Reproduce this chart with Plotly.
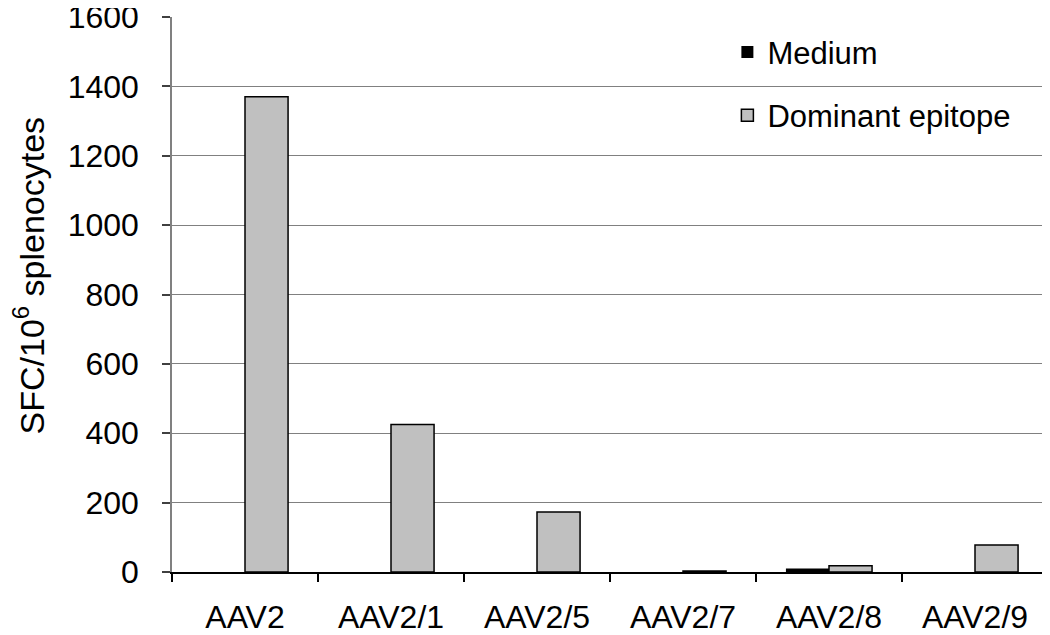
import plotly.graph_objects as go

categories = ["AAV2", "AAV2/1", "AAV2/5", "AAV2/7", "AAV2/8", "AAV2/9"]
medium = [0, 0, 0, 0, 10, 0]
dominant = [1370, 425, 173, 3, 18, 78]
y_ticks = [0, 200, 400, 600, 800, 1000, 1200, 1400, 1600]
y_title = "SFC/10<sup>6</sup> splenocytes"

font = "Liberation Sans, Arial, sans-serif"

fig = go.Figure()
fig.add_trace(go.Bar(x=categories, y=medium, name="Medium", legendgroup="a",
                     marker=dict(color="#000000", line=dict(color="#000000", width=0))))
fig.add_trace(go.Bar(x=categories, y=dominant, name="Dominant epitope", legendgroup="b",
                     marker=dict(color="#C0C0C0", line=dict(color="#000000", width=1.5))))

# page body has an 8px margin, so the figure is shifted by (8, 8) in the window
fig.update_layout(
    width=1042, height=627,
    margin=dict(l=164, r=2, t=9, b=63, autoexpand=False),
    paper_bgcolor="white", plot_bgcolor="white",
    font=dict(family=font, size=32, color="#000000"),
    barmode="group", bargap=0.41, bargroupgap=0,
    showlegend=True,
    legend=dict(x=0.634, y=0.985, xanchor="left", yanchor="top",
                bgcolor="rgba(0,0,0,0)", font=dict(size=31),
                tracegroupgap=20, traceorder="grouped"),
    annotations=[dict(text=y_title, xref="paper", yref="paper",
                      x=-0.164, y=0.535, xanchor="center", yanchor="middle",
                      textangle=-90, showarrow=False, font=dict(size=34))],
)
fig.update_xaxes(
    showline=True, linecolor="#000000", linewidth=1.5,
    ticks="outside", tickson="boundaries", ticklen=8, tickcolor="#000000", tickwidth=1.5,
    showgrid=False, ticklabelstandoff=16, automargin=False,
    ticklabeloverflow="allow",
    tickfont=dict(size=32),
)
fig.update_yaxes(
    range=[0, 1600], tickvals=y_ticks,
    showline=True, linecolor="#808080", linewidth=1.5,
    ticks="outside", ticklen=8, tickcolor="#404040", tickwidth=1.5,
    showgrid=True, gridcolor="#808080", gridwidth=1.2,
    zeroline=False, ticklabelstandoff=17, automargin=False,
    ticklabeloverflow="allow",
    tickfont=dict(size=32),
)

fig.write_html("out.html")
